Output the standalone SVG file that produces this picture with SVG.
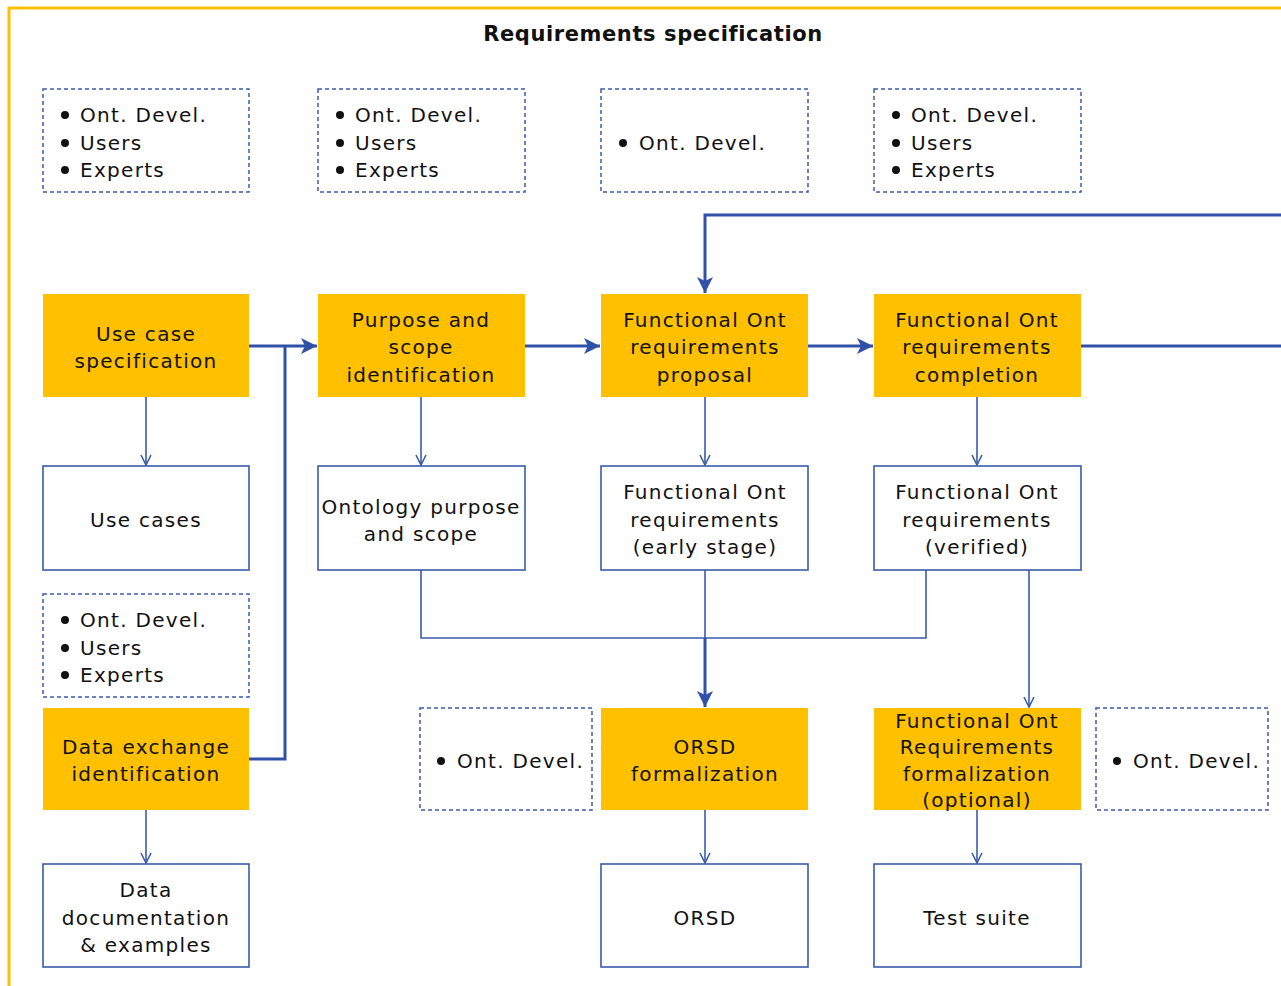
<svg xmlns="http://www.w3.org/2000/svg" width="1281" height="986" viewBox="0 0 1281 986">
  <defs>
    <style>
      text { font-family: "DejaVu Sans", Verdana, sans-serif; font-size: 20px; letter-spacing: 1.3px; fill: #111; }
      .c { text-anchor: middle; }
      .title { font-weight: bold; font-size: 21px; letter-spacing: 0.6px; }
      .task { fill: #FFC000; }
      .doc { fill: #fff; stroke: #3B5BA9; stroke-width: 1.6; }
      .role { fill: #fff; stroke: #3B5BA9; stroke-width: 1.5; stroke-dasharray: 4 3; }
      .thick { fill: none; stroke: #2F52A8; stroke-width: 3; }
      .thin { fill: none; stroke: #3B5BA9; stroke-width: 1.6; }
      .dot { fill: #111; }
    </style>
    <marker id="solid" viewBox="0 0 16 16" refX="16" refY="8" markerWidth="16" markerHeight="16" markerUnits="userSpaceOnUse" orient="auto">
      <path d="M0,0 L16,8 L0,16 L4,8 Z" fill="#2F52A8"/>
    </marker>
    <marker id="open" viewBox="0 0 12 12" refX="11" refY="6" markerWidth="12" markerHeight="12" markerUnits="userSpaceOnUse" orient="auto">
      <path d="M1,1 L11,6 L1,11" fill="none" stroke="#3B5BA9" stroke-width="1.6"/>
    </marker>
  </defs>

  <!-- frame -->
  <rect x="9" y="8" width="1290" height="1000" fill="#fff" stroke="#FFC000" stroke-width="3"/>
  <text class="c title" x="653" y="41">Requirements specification</text>

  <!-- connectors -->
  <g id="connectors">
    <path class="thick" d="M249,346 H317" marker-end="url(#solid)"/>
    <path class="thick" d="M249,759 H285 V346"/>
    <path class="thick" d="M525,346 H600" marker-end="url(#solid)"/>
    <path class="thick" d="M808,346 H873" marker-end="url(#solid)"/>
    <path class="thick" d="M1081,346 H1281"/>
    <path class="thick" d="M1281,215 H705 V293" marker-end="url(#solid)"/>
    <path class="thin" d="M146,397 V465" marker-end="url(#open)"/>
    <path class="thin" d="M421,397 V465" marker-end="url(#open)"/>
    <path class="thin" d="M705,397 V465" marker-end="url(#open)"/>
    <path class="thin" d="M977,397 V465" marker-end="url(#open)"/>
    <path class="thin" d="M421,570 V638 H926 V570"/>
    <path class="thin" d="M705,570 V638"/>
    <path class="thick" d="M705,638 V707" marker-end="url(#solid)"/>
    <path class="thin" d="M1029,570 V707" marker-end="url(#open)"/>
    <path class="thin" d="M146,810 V863" marker-end="url(#open)"/>
    <path class="thin" d="M705,810 V863" marker-end="url(#open)"/>
    <path class="thin" d="M977,810 V863" marker-end="url(#open)"/>
  </g>

  <!-- roles -->
  <g id="roles1">
    <rect class="role" x="43" y="89" width="206" height="103"/>
    <circle class="dot" cx="65" cy="115" r="4"/><text x="80" y="122">Ont. Devel.</text>
    <circle class="dot" cx="65" cy="143" r="4"/><text x="80" y="150">Users</text>
    <circle class="dot" cx="65" cy="170" r="4"/><text x="80" y="177">Experts</text>
  </g>
  <g id="roles2">
    <rect class="role" x="318" y="89" width="207" height="103"/>
    <circle class="dot" cx="340" cy="115" r="4"/><text x="355" y="122">Ont. Devel.</text>
    <circle class="dot" cx="340" cy="143" r="4"/><text x="355" y="150">Users</text>
    <circle class="dot" cx="340" cy="170" r="4"/><text x="355" y="177">Experts</text>
  </g>
  <g id="roles3">
    <rect class="role" x="601" y="89" width="207" height="103"/>
    <circle class="dot" cx="623" cy="143" r="4"/><text x="639" y="150">Ont. Devel.</text>
  </g>
  <g id="roles4">
    <rect class="role" x="874" y="89" width="207" height="103"/>
    <circle class="dot" cx="896" cy="115" r="4"/><text x="911" y="122">Ont. Devel.</text>
    <circle class="dot" cx="896" cy="143" r="4"/><text x="911" y="150">Users</text>
    <circle class="dot" cx="896" cy="170" r="4"/><text x="911" y="177">Experts</text>
  </g>
  <g id="roles5">
    <rect class="role" x="43" y="594" width="206" height="103"/>
    <circle class="dot" cx="65" cy="620" r="4"/><text x="80" y="627">Ont. Devel.</text>
    <circle class="dot" cx="65" cy="648" r="4"/><text x="80" y="655">Users</text>
    <circle class="dot" cx="65" cy="675" r="4"/><text x="80" y="682">Experts</text>
  </g>
  <g id="roles6">
    <rect class="role" x="420" y="708" width="172" height="102"/>
    <circle class="dot" cx="441" cy="761" r="4"/><text x="457" y="768">Ont. Devel.</text>
  </g>
  <g id="roles7">
    <rect class="role" x="1096" y="708" width="172" height="102"/>
    <circle class="dot" cx="1117" cy="761" r="4"/><text x="1133" y="768">Ont. Devel.</text>
  </g>

  <!-- tasks -->
  <g id="use-case-spec">
    <rect class="task" x="43" y="294" width="206" height="103"/>
    <text class="c" x="146" y="341">Use case</text>
    <text class="c" x="146" y="368">specification</text>
  </g>
  <g id="purpose-scope">
    <rect class="task" x="318" y="294" width="207" height="103"/>
    <text class="c" x="421" y="327">Purpose and</text>
    <text class="c" x="421" y="354">scope</text>
    <text class="c" x="421" y="382">identification</text>
  </g>
  <g id="fr-proposal">
    <rect class="task" x="601" y="294" width="207" height="103"/>
    <text class="c" x="705" y="327">Functional Ont</text>
    <text class="c" x="705" y="354">requirements</text>
    <text class="c" x="705" y="382">proposal</text>
  </g>
  <g id="fr-completion">
    <rect class="task" x="874" y="294" width="207" height="103"/>
    <text class="c" x="977" y="327">Functional Ont</text>
    <text class="c" x="977" y="354">requirements</text>
    <text class="c" x="977" y="382">completion</text>
  </g>
  <g id="data-exchange">
    <rect class="task" x="43" y="708" width="206" height="102"/>
    <text class="c" x="146" y="754">Data exchange</text>
    <text class="c" x="146" y="781">identification</text>
  </g>
  <g id="orsd-formalization">
    <rect class="task" x="601" y="708" width="207" height="102"/>
    <text class="c" x="705" y="754">ORSD</text>
    <text class="c" x="705" y="781">formalization</text>
  </g>
  <g id="fr-formalization">
    <rect class="task" x="874" y="708" width="207" height="102"/>
    <text class="c" x="977" y="728">Functional Ont</text>
    <text class="c" x="977" y="754">Requirements</text>
    <text class="c" x="977" y="781">formalization</text>
    <text class="c" x="977" y="807">(optional)</text>
  </g>

  <!-- documents -->
  <g id="use-cases">
    <rect class="doc" x="43" y="466" width="206" height="104"/>
    <text class="c" x="146" y="527">Use cases</text>
  </g>
  <g id="purpose-doc">
    <rect class="doc" x="318" y="466" width="207" height="104"/>
    <text class="c" x="421" y="514">Ontology purpose</text>
    <text class="c" x="421" y="541">and scope</text>
  </g>
  <g id="fr-early">
    <rect class="doc" x="601" y="466" width="207" height="104"/>
    <text class="c" x="705" y="499">Functional Ont</text>
    <text class="c" x="705" y="527">requirements</text>
    <text class="c" x="705" y="554">(early stage)</text>
  </g>
  <g id="fr-verified">
    <rect class="doc" x="874" y="466" width="207" height="104"/>
    <text class="c" x="977" y="499">Functional Ont</text>
    <text class="c" x="977" y="527">requirements</text>
    <text class="c" x="977" y="554">(verified)</text>
  </g>
  <g id="data-doc">
    <rect class="doc" x="43" y="864" width="206" height="103"/>
    <text class="c" x="146" y="897">Data</text>
    <text class="c" x="146" y="925">documentation</text>
    <text class="c" x="146" y="952">&amp; examples</text>
  </g>
  <g id="orsd">
    <rect class="doc" x="601" y="864" width="207" height="103"/>
    <text class="c" x="705" y="925">ORSD</text>
  </g>
  <g id="test-suite">
    <rect class="doc" x="874" y="864" width="207" height="103"/>
    <text class="c" x="977" y="925">Test suite</text>
  </g>
</svg>
